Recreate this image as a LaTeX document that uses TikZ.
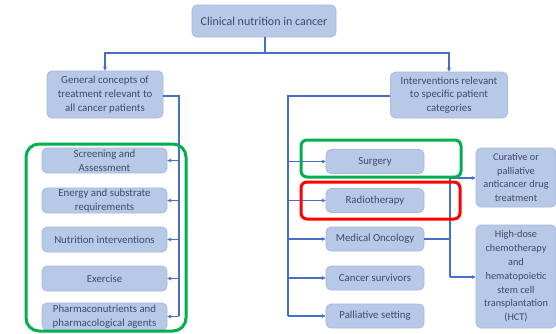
\documentclass[tikz,border=0pt]{standalone}
\usepackage{fontspec}
\setmainfont{Carlito}
\usetikzlibrary{arrows.meta}
\definecolor{boxfill}{RGB}{184,201,232}
\definecolor{boxline}{RGB}{166,186,222}
\definecolor{boxtext}{RGB}{62,76,100}
\definecolor{link}{RGB}{72,110,200}
\definecolor{hlgreen}{RGB}{0,176,80}
\definecolor{hlred}{RGB}{255,0,0}
\tikzset{
  box/.style={draw=boxline, fill=boxfill, rounded corners=5pt, line width=0.8pt,
    text=boxtext, font=\fontsize{10.8}{13.8}\selectfont, align=center,
    inner sep=1pt},
  link/.style={draw=link, line width=1.2pt},
  linkarrow/.style={link, -{Stealth[length=4pt,width=4pt]}},
  highlight/.style={line width=3pt}
}
\begin{document}
\begin{tikzpicture}[x=1pt,y=-1pt]
\useasboundingbox (0,0) rectangle (556,333);
\fill[white] (0,0) rectangle (556,333);

% top level
\node[box, minimum width=144pt, minimum height=32pt, font=\fontsize{12}{14}\selectfont] (top) at (264,21) {Clinical nutrition in cancer};

% second level
\node[box, minimum width=116pt, minimum height=47pt] (gen) at (105,94.5)
  {General concepts of\\treatment relevant to\\all cancer patients};
\node[box, minimum width=117pt, minimum height=46pt] (spec) at (449,95)
  {Interventions relevant\\to specific patient\\categories};

% general concepts column
\node[box, minimum width=125pt, minimum height=25pt] (scr) at (104.5,160.5) {Screening and\\Assessment};
\node[box, minimum width=125pt, minimum height=25pt] (ene) at (104.5,200.5) {Energy and substrate\\requirements};
\node[box, minimum width=125pt, minimum height=25pt] (nut) at (104.5,239.5) {Nutrition interventions};
\node[box, minimum width=125pt, minimum height=25pt] (exe) at (104.5,278.5) {Exercise};
\node[box, minimum width=125pt, minimum height=27pt] (pha) at (104.5,316.5) {Pharmaconutrients and\\pharmacological agents};

% patient categories column
\node[box, minimum width=98pt, minimum height=24pt] (sur) at (375,161.5) {Surgery};
\node[box, minimum width=98pt, minimum height=24pt] (rad) at (375,200.5) {Radiotherapy};
\node[box, minimum width=98pt, minimum height=24pt] (med) at (375,239) {Medical Oncology};
\node[box, minimum width=98pt, minimum height=24pt] (sur2) at (375,278) {Cancer survivors};
\node[box, minimum width=98pt, minimum height=24pt] (pal) at (375,316) {Palliative setting};

% medical oncology branches
\node[box, minimum width=80pt, minimum height=59pt, font=\fontsize{10.3}{13.8}\selectfont] (cur) at (516,177.5)
  {Curative or\\palliative\\anticancer drug\\treatment};
\node[box, minimum width=80pt, minimum height=103pt, font=\fontsize{10.3}{13.8}\selectfont] (hct) at (516,276.5)
  {High-dose\\chemotherapy\\and\\hematopoietic\\stem cell\\transplantation\\(HCT)};

% connectors from the top
\coordinate (split) at (265,53);
\draw[link] (top.south -| split) -- (split);
\draw[linkarrow] (split) -| (gen.north);
\draw[linkarrow] (split) -| (spec.north);

% left trunk
\coordinate (ltop) at (179,96);
\coordinate (lbot) at (179,316);
\draw[link] (gen.east |- ltop) -- (ltop) -- (lbot);
\foreach \b in {scr,ene,nut,exe,pha}
  \draw[linkarrow] (lbot |- \b.east) -- (\b.east);

% right trunk
\coordinate (rtop) at (288,96);
\coordinate (rbot) at (288,316);
\draw[link] (spec.west |- rtop) -- (rtop) -- (rbot);
\foreach \b in {sur,rad,med,sur2,pal}
  \draw[linkarrow] (rbot |- \b.west) -- (\b.west);

% medical oncology fork
\coordinate (mfork) at (450,239);
\coordinate (mtop) at (450,178);
\coordinate (mbot) at (450,277);
\draw[link] (med.east) -- (mfork);
\draw[link] (mtop) -- (mbot);
\draw[linkarrow] (mtop) -- (mtop -| cur.west);
\draw[linkarrow] (mbot) -- (mbot -| hct.west);

% highlight frames
\draw[highlight, draw=hlgreen, rounded corners=13pt] (26,144) rectangle (186,331);
\draw[highlight, draw=hlgreen, rounded corners=6pt] (301,140) rectangle (461,177);
\draw[highlight, draw=hlred, rounded corners=6pt] (301,182) rectangle (460,219);
\end{tikzpicture}
\end{document}
